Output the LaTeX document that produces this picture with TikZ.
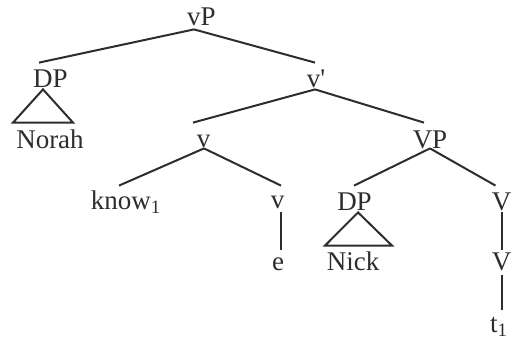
\documentclass[tikz,border=0pt]{standalone}
\usepackage{fontspec}
\setmainfont{Liberation Serif}
\usepackage{tikz}
\usetikzlibrary{positioning}
\definecolor{inkgray}{RGB}{45,45,45}

\begin{document}
\begin{tikzpicture}[
      x=0.5pt, y=-0.5pt,
      cat/.style={anchor=base, inner sep=0pt, text height=9pt, text depth=0pt, text=inkgray},
      every node/.style={font=\fontsize{13.5}{16}\selectfont},
      branch/.style={draw=inkgray, line width=1pt}
    ]
    \useasboundingbox (0,0) rectangle (512,338);
    % top of the tree
    \node[cat] (vP)    at (201.5,25) {vP};
    \node[cat] (dpA)   at (50.5,87)  {DP};
    \node[cat] (vbar)  at (316,87)   {v\textquotesingle};
    \node[cat] (norah) at (50,148)   {Norah};
    \node[cat] (vsmall) at (203.5,147) {v};
    \node[cat] (VP)    at (430,148)  {VP};
    % lower levels
    \node[cat] (know)  at (126,209)  {know\textsubscript{1}};
    \node[cat] (vhead) at (277.5,208) {v};
    \node[cat] (dpB)   at (354.5,210) {DP};
    \node[cat] (Vbar)  at (501.5,210) {V};
    \node[cat] (e)     at (278,270)  {e};
    \node[cat] (nick)  at (353,270)  {Nick};
    \node[cat] (Vhead) at (501.5,270) {V};
    \node[cat] (trace) at (499,332)  {t\textsubscript{1}};
    % branches
    \draw[branch] ([xshift=-3.75pt,yshift=-2pt]vP.south) -- ([xshift=-5.75pt,yshift=3pt]dpA.north);
    \draw[branch] ([xshift=-3.75pt,yshift=-2pt]vP.south) -- ([xshift=-0.5pt,yshift=3pt]vbar.north);
    \draw[branch] ([xshift=-0.5pt,yshift=-1pt]vbar.south) -- ([xshift=-5.25pt,yshift=3pt]vsmall.north);
    \draw[branch] ([xshift=-0.5pt,yshift=-1pt]vbar.south) -- ([xshift=-3pt,yshift=3.5pt]VP.north);
    \draw[branch] ([xshift=0.25pt,yshift=-0.5pt]vsmall.south) -- ([xshift=-3.5pt,yshift=2.5pt]know.north);
    \draw[branch] ([xshift=0.25pt,yshift=-0.5pt]vsmall.south) -- ([xshift=1.75pt,yshift=2pt]vhead.north);
    \draw[branch] (VP.south) -- ([xshift=-0.25pt,yshift=3pt]dpB.north);
    \draw[branch] (VP.south) -- ([xshift=-3pt,yshift=3pt]Vbar.north);
    \draw[branch] ([xshift=1.75pt,yshift=-2pt]vhead.south) -- ([xshift=1.5pt,yshift=1pt]e.north);
    \draw[branch] ([yshift=-1pt]Vbar.south) -- ([yshift=1pt]Vhead.north);
    \draw[branch] ([yshift=-2.5pt]Vhead.south) -- ([xshift=1.25pt,yshift=2pt]trace.north);
    % triangles over the DPs
    \draw[branch] ([xshift=-3.75pt,yshift=-1pt]dpA.south) -- ([xshift=-18.5pt,yshift=3.5pt]norah.north)
      -- ([xshift=11.5pt,yshift=3.5pt]norah.north) -- cycle;
    \draw[branch] ([xshift=1.75pt,yshift=-1pt]dpB.south) -- ([xshift=-14pt,yshift=3pt]nick.north)
      -- ([xshift=19.5pt,yshift=3pt]nick.north) -- cycle;
  \end{tikzpicture}
\end{document}
